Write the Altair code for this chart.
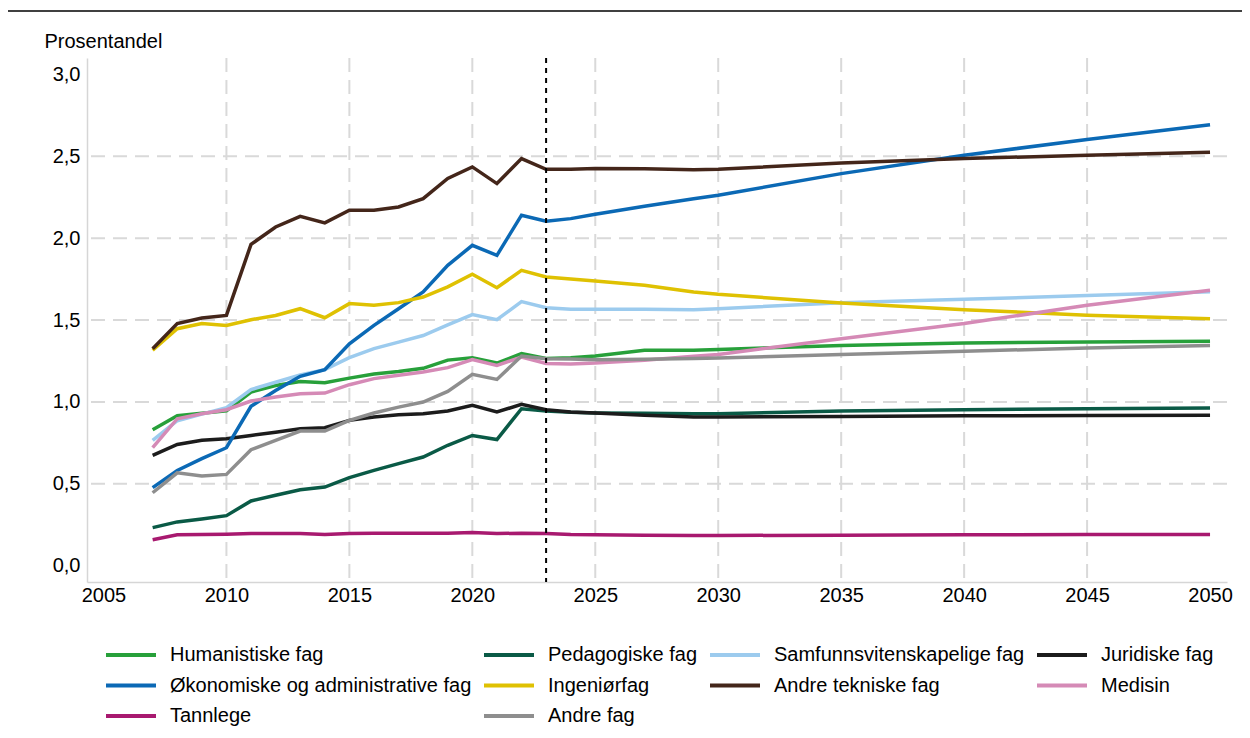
import altair as alt
import pandas as pd

years = [2007, 2008, 2009, 2010, 2011, 2012, 2013, 2014, 2015, 2016, 2017, 2018,
         2019, 2020, 2021, 2022, 2023, 2024, 2025, 2027, 2029, 2030, 2035, 2040,
         2045, 2050]

humanistiske = [0.83, 0.915, 0.93, 0.945, 1.06, 1.10, 1.125, 1.117, 1.145, 1.17, 1.185, 1.205,
                1.255, 1.27, 1.237, 1.295, 1.265, 1.27, 1.28, 1.315, 1.315, 1.32, 1.345, 1.36,
                1.366, 1.37]
pedagogiske = [0.232, 0.267, 0.285, 0.305, 0.395, 0.43, 0.463, 0.48, 0.537, 0.582, 0.623, 0.663,
               0.735, 0.795, 0.77, 0.958, 0.944, 0.936, 0.932, 0.93, 0.928, 0.928, 0.944, 0.952,
               0.958, 0.962]
samfunn = [0.765, 0.885, 0.925, 0.965, 1.075, 1.12, 1.165, 1.197, 1.27, 1.325, 1.365, 1.405,
           1.47, 1.533, 1.502, 1.612, 1.575, 1.565, 1.565, 1.565, 1.563, 1.569, 1.606, 1.626,
           1.65, 1.672]
juridiske = [0.673, 0.74, 0.765, 0.775, 0.795, 0.815, 0.836, 0.842, 0.887, 0.907, 0.921, 0.927,
             0.944, 0.979, 0.938, 0.985, 0.952, 0.938, 0.932, 0.918, 0.908, 0.907, 0.911, 0.915,
             0.917, 0.919]
okonomiske = [0.476, 0.581, 0.653, 0.72, 0.973, 1.07, 1.156, 1.197, 1.355, 1.467, 1.569, 1.671,
              1.834, 1.956, 1.895, 2.14, 2.103, 2.119, 2.146, 2.195, 2.24, 2.262, 2.394, 2.506,
              2.602, 2.693]
ingenior = [1.315, 1.447, 1.478, 1.467, 1.502, 1.528, 1.569, 1.514, 1.6, 1.59, 1.606, 1.64,
            1.702, 1.779, 1.697, 1.803, 1.763, 1.75, 1.738, 1.712, 1.671, 1.657, 1.604, 1.563,
            1.529, 1.508]
andre_tekniske = [1.325, 1.478, 1.512, 1.528, 1.962, 2.068, 2.133, 2.093, 2.17, 2.17, 2.19, 2.241,
                  2.364, 2.435, 2.333, 2.486, 2.42, 2.42, 2.425, 2.423, 2.418, 2.42, 2.459, 2.486,
                  2.506, 2.524]
medisin = [0.72, 0.897, 0.928, 0.952, 1.005, 1.03, 1.05, 1.054, 1.105, 1.142, 1.162, 1.183,
           1.209, 1.258, 1.223, 1.274, 1.235, 1.232, 1.237, 1.254, 1.278, 1.29, 1.386, 1.478,
           1.59, 1.681]
tannlege = [0.158, 0.188, 0.19, 0.192, 0.196, 0.196, 0.196, 0.19, 0.196, 0.198, 0.198, 0.198,
            0.198, 0.202, 0.196, 0.198, 0.196, 0.19, 0.188, 0.186, 0.184, 0.184, 0.186, 0.188,
            0.19, 0.19]
andre_fag = [0.445, 0.567, 0.547, 0.557, 0.708, 0.765, 0.822, 0.822, 0.887, 0.932, 0.968, 0.999,
             1.064, 1.168, 1.137, 1.28, 1.264, 1.262, 1.258, 1.26, 1.265, 1.268, 1.29, 1.309,
             1.329, 1.345]

categories = ["Humanistiske fag", "Pedagogiske fag", "Samfunnsvitenskapelige fag", "Juridiske fag",
              "Økonomiske og administrative fag", "Ingeniørfag", "Andre tekniske fag", "Medisin",
              "Tannlege", "Andre fag"]
series = [humanistiske, pedagogiske, samfunn, juridiske, okonomiske, ingenior, andre_tekniske,
          medisin, tannlege, andre_fag]
colors = ["#27a03a", "#0a5a46", "#9ccbee", "#1c1c1c", "#0b69b5", "#dfc102", "#44261a",
          "#d58ab6", "#a8196f", "#8e8e8e"]

x_ticks = [2005, 2010, 2015, 2020, 2025, 2030, 2035, 2040, 2045, 2050]
x_grid = [2010, 2015, 2020, 2025, 2030, 2035, 2040, 2045]
y_ticks = [0.0, 0.5, 1.0, 1.5, 2.0, 2.5, 3.0]
y_grid = [0.5, 1.0, 1.5, 2.0, 2.5]
forecast_start = [2023]

rows = []
for cat, vals in zip(categories, series):
    for yr, v in zip(years, vals):
        rows.append({"year": yr, "value": v, "fag": cat})
df = pd.DataFrame(rows)

FS = 20
x_scale = alt.Scale(domain=[2004.33, 2050.69], nice=False, zero=False)
y_scale = alt.Scale(domain=[-0.1, 3.1], nice=False, zero=False)

x_axis = alt.Axis(values=x_ticks, format="d", grid=False, ticks=False,
                  labelFontSize=FS, labelPadding=3, labelFlush=False,
                  domainColor="#d6d6d6", domainWidth=1.5, title=None,
                  labelColor="#000000")
y_axis = alt.Axis(values=y_ticks, grid=False, ticks=False,
                  labelExpr="replace(format(datum.value, '.1f'), '.', ',')",
                  labelFontSize=FS, labelPadding=7, labelColor="#000000",
                  domainColor="#d6d6d6", domainWidth=1.5,
                  title="Prosentandel", titleAngle=0, titleAlign="left",
                  titleBaseline="alphabetic", titleX=-43, titleY=-11,
                  titleFontSize=FS, titleFontWeight="normal", titleColor="#000000")

grid_style = dict(color="#d9d9d9", strokeWidth=2, strokeDash=[14, 8])

vgrid = alt.Chart(pd.DataFrame({"year": x_grid})).mark_rule(**grid_style).encode(
    x=alt.X("year:Q", scale=x_scale, axis=x_axis)
)
hgrid = alt.Chart(pd.DataFrame({"value": y_grid})).mark_rule(**grid_style).encode(
    y=alt.Y("value:Q", scale=y_scale, axis=y_axis)
)

lines = alt.Chart(df).mark_line(strokeWidth=3.5).encode(
    x=alt.X("year:Q", scale=x_scale, axis=x_axis),
    y=alt.Y("value:Q", scale=y_scale, axis=y_axis),
    color=alt.Color("fag:N",
                    scale=alt.Scale(domain=categories, range=colors),
                    sort=categories,
                    legend=alt.Legend(orient="none", legendX=32, legendY=585,
                                      direction="horizontal", columns=4, title=None,
                                      symbolType="M-2.5,0H2.5", symbolSize=400,
                                      symbolStrokeWidth=4, labelFontSize=FS,
                                      labelOffset=27, columnPadding=4, rowPadding=8.5,
                                      labelLimit=0, labelColor="#000000")),
    order=alt.Order("year:Q"),
)

forecast = alt.Chart(pd.DataFrame({"year": forecast_start})).mark_rule(
    color="#000000", strokeWidth=2, strokeDash=[5, 5]
).encode(x=alt.X("year:Q", scale=x_scale, axis=x_axis))

top_rule = alt.Chart(pd.DataFrame({"a": [0]})).mark_rule(
    color="#000000", strokeWidth=1.5
).encode(x=alt.value(-79), x2=alt.value(1155), y=alt.value(-47))

chart = alt.layer(vgrid, hgrid, lines, forecast, top_rule).properties(
    width=1140, height=524,
    autosize=alt.AutoSizeParams(type="none"),
    padding={"left": 79, "top": 50, "right": 15, "bottom": 150},
).configure(font="Liberation Sans").configure_view(stroke=None)

chart.save("out.html", embed_options={"renderer": "svg", "actions": False})
